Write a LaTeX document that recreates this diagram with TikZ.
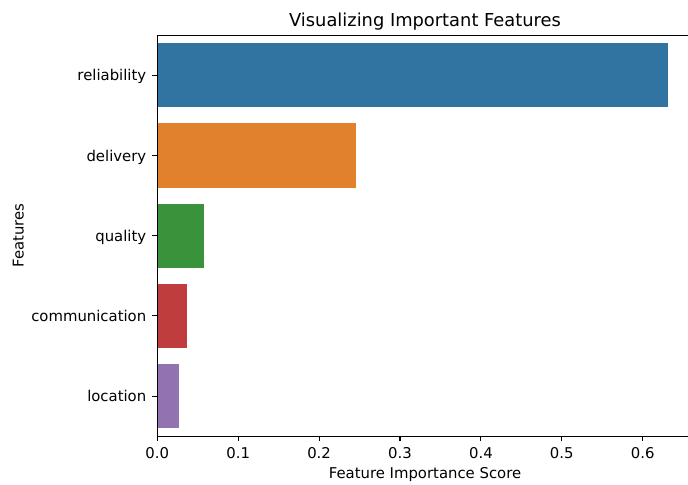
\documentclass[tikz,border=0pt]{standalone}
\usepackage{fontspec}
\setmainfont{DejaVu Sans}
\definecolor{bar_blue}{HTML}{3274A1}
\definecolor{bar_orange}{HTML}{E1812C}
\definecolor{bar_green}{HTML}{3A923A}
\definecolor{bar_red}{HTML}{C03D3E}
\definecolor{bar_purple}{HTML}{9372B2}

\begin{document}
\begin{tikzpicture}[x=0.72pt, y=-0.72pt,
    every node/.style={font=\fontsize{10.7}{12.8}\selectfont, inner sep=0pt},
    spine/.style={line width=0.8pt, line cap=rect},
    tick/.style={line width=0.8pt}]

    \useasboundingbox (0,0) rectangle (688,484);

    % Bars: a score s ends at x = 157.3 + 809*s, rows are 80.2 apart.
    \foreach \val/\col [count=\i from 0] in {0.631/bar_blue, 0.246/bar_orange, 0.0577/bar_green, 0.0363/bar_red, 0.0268/bar_purple}
      \fill[\col] (157.3,{75.3+80.2*\i-32.1}) rectangle ({157.3+809*\val},{75.3+80.2*\i+32.1});

    % Frame (the right side lies past the edge of the picture).
    \draw[spine] (688,35.2) -- (157.3,35.2) -- (157.3,436.2) -- (688,436.2);

    \foreach \name [count=\i from 0] in {reliability, delivery, quality, communication, location} {
      \draw[tick] (157.3,{75.3+80.2*\i}) -- ++(-4.9,0);
      \node[anchor=base east] (ylab-\name) at (146.5,{80.9+80.2*\i}) {\name};
    }

    \foreach \t in {0,...,6} {
      \draw[tick] ({157.3+80.9*\t},436.2) -- ++(0,4.9);
      \node[anchor=base] (xlab-\t) at ({157.3+80.9*\t},458) {0.\t};
    }

    \node[anchor=base, font=\fontsize{12.85}{15}\selectfont] (title) at (425,26.7) {Visualizing Important Features};
    \node[anchor=base] (xlabel) at (425,478.5) {Feature Importance Score};
    \node[anchor=base, rotate=90] (ylabel) at (23.5,235.7) {Features};

\end{tikzpicture}
\end{document}
